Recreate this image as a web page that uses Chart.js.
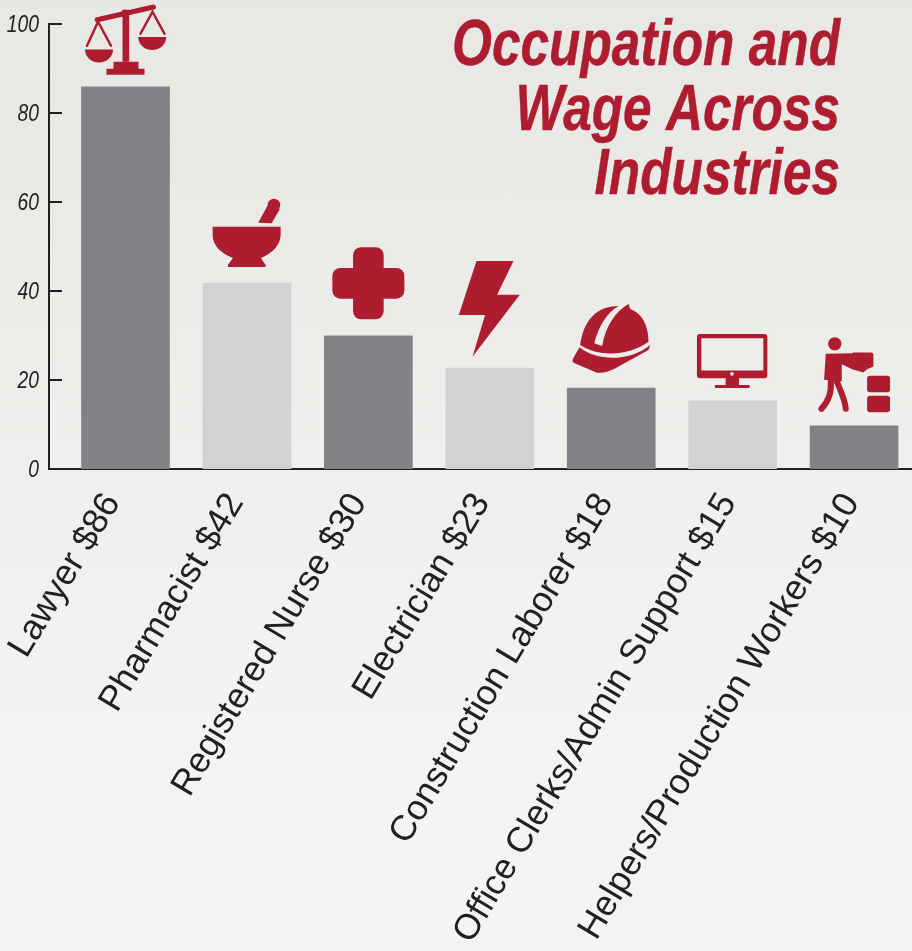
<!DOCTYPE html>
<html>
<head>
<meta charset="utf-8">
<title>Occupation and Wage Across Industries</title>
<script src="https://cdn.jsdelivr.net/npm/chart.js@4"></script>
<style>
  html, body { margin: 0; padding: 0; overflow: hidden; }
  body {
    width: 912px;
    height: 951px;
    background: linear-gradient(180deg, #e7e8e4 0%, #eaebe7 25%, #eff0ed 50%, #f3f3f1 75%, #f4f4f2 100%);
  }
  canvas { display: block; }
</style>
</head>
<body>
<canvas id="wageChart" width="912" height="951"></canvas>
<script>
const titleLines = ["Occupation and", "Wage Across", "Industries"];
const categories = [
  "Lawyer $86",
  "Pharmacist $42",
  "Registered Nurse $30",
  "Electrician $23",
  "Construction Laborer $18",
  "Office Clerks/Admin Support $15",
  "Helpers/Production Workers $10",
];
const wages = [85.9, 41.8, 29.9, 22.7, 18.2, 15.3, 9.7];
const barColors = ["#818285", "#d1d2d4", "#818285", "#d1d2d4", "#818285", "#d1d2d4", "#818285"];

const RED = "#ae1c2f";
const INK = "#231f20";

// icons sit on top of their bar, origin = centre of the bar's top edge
const icons = [
  {
    fill: [
      "M-40.5,-37.3H-12.5A14,13 0 0 1 -40.5,-37.3Z",
      "M12.7,-49.7H40.7A14,13 0 0 1 12.7,-49.7Z",
      "M-3,-77H3.7V-25H-3Z",
      "M-12,-25H13V-18H19V-12H-19V-18H-12Z",
      "M3.5,-73A4,4 0 1 1 -4.5,-73A4,4 0 1 1 3.5,-73Z",
    ],
    stroke: [
      { d: "M-28.3,-67L28,-79.7", w: 5 },
      { d: "M-38.5,-41L-27.5,-65L-14.5,-41 M15,-53L27,-75L39,-53", w: 2.5 },
    ],
  },
  {
    fill: [
      "M-34.3,-56.3H33.7V-48C33.5,-37 24,-29 14,-25L18.7,-18V-16H-19V-18L-14,-25C-25,-29 -34.3,-37 -34.3,-48Z",
      "M11.3,-60.3L24.7,-59.7L33,-74L22,-80Z",
      "M33.3,-78A6.3,6.3 0 1 1 20.7,-78A6.3,6.3 0 1 1 33.3,-78Z",
    ],
  },
  {
    rects: [[-15.3, -88.7, 30.6, 72, 8], [-36, -68, 72, 30.7, 8]],
  },
  {
    fill: ["M-13.3,-107H23.7L7.3,-73.3H30L-17.3,-11.3L-4.7,-53H-31Z"],
  },
  {
    fill: [
      "M-31,-43C-27.7,-68 -14.3,-82 7.3,-82C-5,-74.7 -12.7,-61.3 -17,-44.7L-9,-42C-6,-61.3 4,-76.3 17.3,-84L19,-79" +
        "C30.7,-74.7 37.3,-63 37.3,-46.3C19,-33 -11,-29.7 -31,-43Z",
      "M-31.7,-40.7C-14.3,-26.3 19,-26.3 39,-43L37.3,-38L2.3,-18.7C-7.7,-14 -14.3,-15.3 -14.3,-15.3L-37.7,-25.3" +
        "C-39.3,-27 -38.7,-28.7 -37.7,-30.3Z",
    ],
  },
  {
    fill: [
      "M-33,-67H32Q34.7,-67 34.7,-64V-26Q34.7,-22.7 32,-22.7H6.3V-16H17V-13H-17.7V-16H-7V-22.7H-33Q-35.7,-22.7 -35.7,-26V-64Q-35.7,-67 -33,-67Z " +
        "M-31.3,-62.7V-30.3H30.7V-62.7Z M-2.5,-27A1.8,1.8 0 1 0 1.1,-27A1.8,1.8 0 1 0 -2.5,-27Z",
    ],
    evenodd: true,
  },
  {
    fill: [
      "M-12.6,-82A6.7,6.7 0 1 1 -26,-82A6.7,6.7 0 1 1 -12.6,-82Z",
      "M-28.3,-72L-0.7,-72.7V-56L-12.3,-61.7V-44.3L-30,-46Z",
      "M-1.3,-73.3H17Q19.3,-73.3 19.3,-71V-59.3L13,-56.7L9.3,-53.3L-2,-56.7Z",
    ],
    rects: [[13, -50, 23, 16.3, 3], [13, -30, 23, 16.3, 3]],
    stroke: [
      { d: "M-23.3,-44.3C-22.3,-32.7 -25.7,-24.3 -32.7,-17", w: 6 },
      { d: "M-17.3,-44.3C-12.3,-32.7 -9,-26 -8.3,-17", w: 6 },
    ],
  },
];

function drawIcon(ctx, icon, x, y) {
  ctx.save();
  ctx.translate(x, y);
  ctx.fillStyle = RED;
  ctx.strokeStyle = RED;
  ctx.lineCap = "round";
  (icon.fill || []).forEach((d) => ctx.fill(new Path2D(d), icon.evenodd ? "evenodd" : "nonzero"));
  (icon.rects || []).forEach((r) => {
    ctx.beginPath();
    ctx.roundRect(r[0], r[1], r[2], r[3], r[4]);
    ctx.fill();
  });
  (icon.stroke || []).forEach((s) => {
    ctx.lineWidth = s.w;
    ctx.stroke(new Path2D(s.d));
  });
  ctx.restore();
}

// no narrow font installed, so squeeze the text sideways
function narrowText(ctx, text, x, y, squeeze, heavy) {
  ctx.save();
  ctx.translate(x, y);
  ctx.scale(squeeze, 1);
  ctx.fillText(text, 0, 0);
  if (heavy) ctx.strokeText(text, 0, 0);
  ctx.restore();
}

const decorations = {
  id: "decorations",
  afterDatasetsDraw(chart) {
    const ctx = chart.ctx;
    const xScale = chart.scales.x;
    const yScale = chart.scales.y;

    // y ticks point into the plot, labels sit left of the axis
    ctx.save();
    ctx.strokeStyle = INK;
    ctx.lineWidth = 2;
    ctx.fillStyle = INK;
    ctx.font = "italic 23.5px 'Liberation Sans'";
    ctx.textAlign = "right";
    ctx.textBaseline = "middle";
    yScale.ticks.forEach((t) => {
      const py = yScale.getPixelForValue(t.value);
      ctx.beginPath();
      ctx.moveTo(xScale.left, py);
      ctx.lineTo(xScale.left + 13, py);
      ctx.stroke();
      narrowText(ctx, String(t.value), 39, py + 1, 0.82);
    });
    ctx.restore();

    wages.forEach((v, i) => {
      drawIcon(ctx, icons[i], xScale.getPixelForValue(i), yScale.getPixelForValue(v));
    });

    ctx.save();
    ctx.fillStyle = RED;
    ctx.strokeStyle = RED;
    ctx.lineWidth = 0.5;
    ctx.font = "italic bold 65px 'Liberation Sans'";
    ctx.textAlign = "right";
    ctx.textBaseline = "alphabetic";
    titleLines.forEach((line, i) => narrowText(ctx, line, 840, 65 + i * 64.5, 0.79, true));
    ctx.restore();
  },
};

new Chart(document.getElementById("wageChart"), {
  type: "bar",
  data: {
    datasets: [
      {
        data: wages.map((v, i) => ({ x: i, y: v })),
        backgroundColor: barColors,
        barThickness: 88,
      },
    ],
  },
  options: {
    responsive: false,
    animation: false,
    layout: { padding: { top: 24, left: 0, right: 0, bottom: 0 } },
    plugins: { legend: { display: false }, title: { display: false }, tooltip: { enabled: false } },
    scales: {
      x: {
        type: "linear",
        offset: false,
        min: -0.63,
        max: 6.477,
        grid: { display: false, offset: false },
        border: { color: INK, width: 2 },
        // the labels in the picture are spaced a little wider than the bars
        afterBuildTicks(scale) {
          scale.ticks = categories.map((_, i) => ({ value: i * 1.0145 }));
        },
        afterFit(scale) {
          scale.height = 482;
          scale.paddingLeft = 0;
          scale.paddingRight = 0;
        },
        ticks: {
          autoSkip: false,
          maxRotation: 59,
          minRotation: 59,
          padding: 9,
          labelOffset: -13,
          color: INK,
          font: { family: "'Liberation Sans', Arial", size: 35.5 },
          callback: (v, i) => categories[i],
        },
      },
      y: {
        min: 0,
        max: 100,
        grid: { display: false },
        border: { color: INK, width: 2 },
        afterFit(scale) {
          scale.width = 49;
        },
        ticks: {
          stepSize: 20,
          display: false,
        },
      },
    },
  },
  plugins: [decorations],
});
</script>
</body>
</html>
